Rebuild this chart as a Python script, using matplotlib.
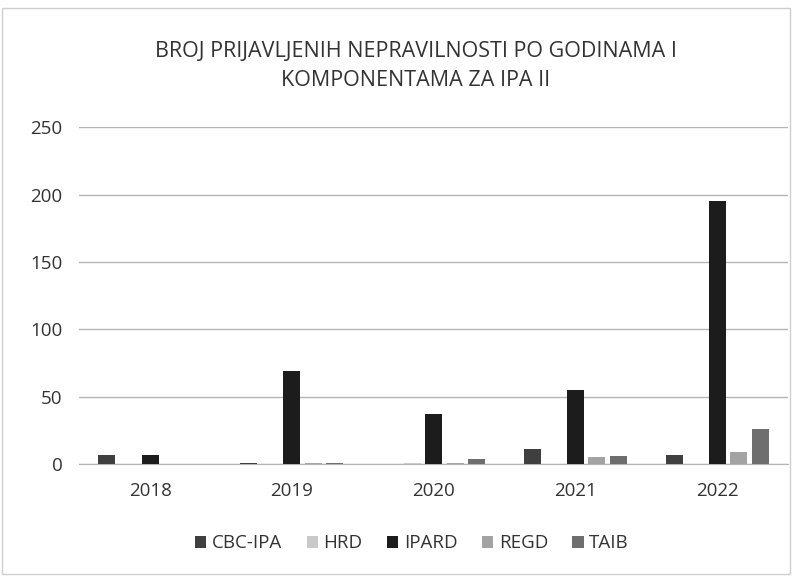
import numpy as np
import matplotlib.pyplot as plt
from matplotlib.patches import Rectangle

YEARS = ['2018', '2019', '2020', '2021', '2022']
SERIES = ['CBC-IPA', 'HRD', 'IPARD', 'REGD', 'TAIB']
CBC_IPA = [7, 1, 0, 11, 7]
HRD = [0, 0, 1, 0, 0]
IPARD = [7, 69, 37, 55, 195]
REGD = [0, 1, 1, 5, 9]
TAIB = [0, 1, 4, 6, 26]
COLORS = ['#3f3f3f', '#c9c9c9', '#1c1c1c', '#a3a3a3', '#6e6e6e']

plt.rcParams['font.family'] = ['Open Sans', 'DejaVu Sans']

fig = plt.figure(figsize=(8.0, 5.81), dpi=100)
ax = fig.add_axes([0.099, 0.201, 0.886, 0.580])

x = np.arange(len(YEARS))
slot = 0.152
width = 0.12
for i, (name, vals) in enumerate(zip(SERIES, [CBC_IPA, HRD, IPARD, REGD, TAIB])):
    ax.bar(x + (i - 2) * slot, vals, width, color=COLORS[i], label=name, zorder=3)

ax.set_xlim(-0.5, len(YEARS) - 0.5)
ax.set_ylim(0, 250)
ax.set_yticks(range(0, 251, 50))
ax.set_xticks(x)
ax.set_xticklabels(YEARS)
ax.yaxis.grid(True, color='#b5b5b5', linewidth=1, zorder=0)
for s in ['top', 'right', 'left']:
    ax.spines[s].set_visible(False)
ax.spines['bottom'].set_color('#b5b5b5')
ax.tick_params(axis='both', length=0, labelsize=13.5, colors='#333333')
ax.tick_params(axis='x', pad=13)
ax.tick_params(axis='y', pad=12)

fig.text(0.52, 0.887, 'BROJ PRIJAVLJENIH NEPRAVILNOSTI PO GODINAMA I\nKOMPONENTAMA ZA IPA II',
         ha='center', va='center', fontsize=15.5, color='#333333', linespacing=1.5)

fig.legend(loc='center', bbox_to_anchor=(0.515, 0.065), ncol=5, frameon=False,
           fontsize=13.5, handlelength=0.6, handleheight=0.6, handletextpad=0.3,
           columnspacing=1.3, labelcolor='#333333')

fig.patches.append(Rectangle((0.003, 0.012), 0.985, 0.975, transform=fig.transFigure,
                             fill=False, edgecolor='#cfcfcf', linewidth=1))

fig.savefig('out.png', dpi=100)
